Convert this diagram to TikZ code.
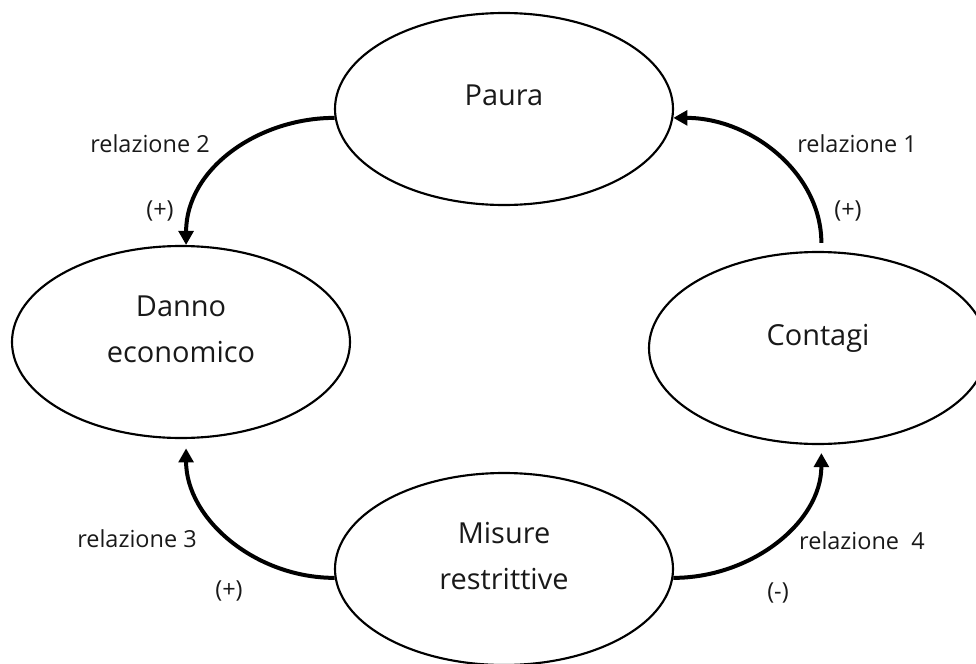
\documentclass[tikz,border=0pt]{standalone}
\usepackage{fontspec}
\setmainfont{Open Sans}
\usetikzlibrary{arrows.meta,shapes.geometric}
\begin{document}
\begin{tikzpicture}[x=0.75pt,y=-0.75pt,
  ell/.style={draw, ellipse, line width=1.6pt, minimum width=253.5pt, minimum height=144pt, inner sep=0pt},
  ntext/.style={font=\fontsize{21.7}{34}\selectfont, align=center, anchor=base, text=black!90, inner sep=0pt},
  lbl/.style={font=\fontsize{17.6}{20}\selectfont, text=black!90, inner sep=0pt},
  rel/.style={line width=3pt, -{Triangle[length=10.5pt,width=11pt]}}]
\clip (0,0) rectangle (976,664);
\fill[white] (0,0) rectangle (976,664);
% ellipses
\node[ell] (paura) at (504,109) {};
\node[ell] (danno) at (181,342) {};
\node[ell] (contagi) at (818,348) {};
\node[ell] (misure) at (504,569) {};
% texts (base = baseline of the last line)
\node[ntext] (pauraT) at (504,105) {Paura};
\node[ntext] (dannoT) at (181,362) {Danno\\economico};
\node[ntext] (contagiT) at (818,345) {Contagi};
\node[ntext] (misureT) at (504,589) {Misure\\restrittive};
% connectors
\draw[rel, shorten <=6pt] (contagi.88) to[out=90,in=0] (paura.-3);
\draw[rel] (paura.183) to[out=180,in=90] (danno.87);
\draw[rel, shorten >=7pt] (misure.183) to[out=180,in=-90] (danno.-87);
\draw[rel, shorten >=6pt] (misure.-3) to[out=0,in=-90] (contagi.-88);
% labels
\node[lbl, anchor=base] (r1) at (857,152) {relazione 1};
\node[lbl] (s1) at (848,211) {(+)};
\node[lbl, anchor=base] (r2) at (150,152) {relazione 2};
\node[lbl] (s2) at (160,211) {(+)};
\node[lbl, anchor=base] (r3) at (137,547) {relazione 3};
\node[lbl] (s3) at (229,591) {(+)};
\node[lbl, anchor=base] (r4) at (862,549) {relazione\ \ 4};
\node[lbl] (s4) at (778,593) {(-)};
\end{tikzpicture}
\end{document}
